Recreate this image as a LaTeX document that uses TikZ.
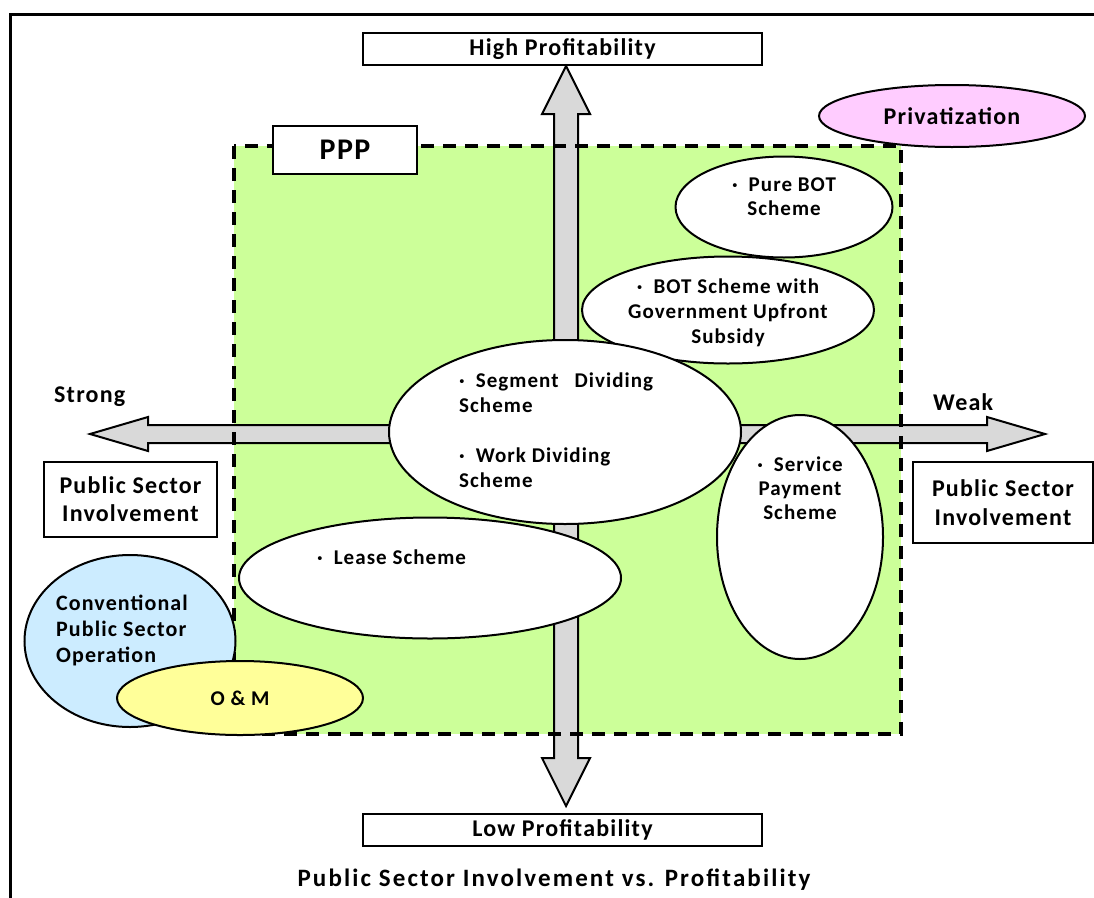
\documentclass[tikz,border=0pt]{standalone}
\usepackage{fontspec}
\setmainfont{Carlito}[LetterSpace=5]
\usetikzlibrary{shapes.geometric}
\definecolor{arrowgray}{HTML}{D9D9D9}
\definecolor{pppgreen}{HTML}{CCFF99}
\definecolor{privpink}{HTML}{FFCCFF}
\definecolor{convblue}{HTML}{CCECFF}
\definecolor{omyellow}{HTML}{FFFF99}
\begin{document}
\begin{tikzpicture}[x=1pt,y=-1pt,
  lbl/.style={font=\fontsize{24}{28}\selectfont\bfseries,inner sep=0pt},
  txt/.style={font=\fontsize{21}{25}\selectfont\bfseries,inner sep=0pt},
  oval/.style={ellipse,draw=black,line width=2pt,fill=white,inner sep=0pt},
  tagbox/.style={rectangle,draw=black,line width=2.5pt,fill=white,inner sep=0pt},
  bigarrow/.style={draw=black,line width=2pt,fill=arrowgray,line join=miter}]
  \useasboundingbox (0,0) rectangle (1094,897);
  \draw[line width=3pt] (10,905) -- (10,14) -- (1100,14);

  % Profitability axis labels.
  \node[tagbox,lbl,minimum width=399pt,minimum height=32pt] (high) at (562.5,49) {High Profitability};
  \node[tagbox,lbl,minimum width=399pt,minimum height=32pt] (low) at (562.5,830) {Low Profitability};

  % PPP area with both axes.
  \fill[pppgreen] (234,146) rectangle (901,734);
  \filldraw[bigarrow] (90,434) -- (148,417) -- (148,425) -- (987,425) -- (987,417)
    -- (1045,434) -- (987,451) -- (987,443) -- (148,443) -- (148,451) -- cycle;
  \filldraw[bigarrow] (566,66) -- (590,114) -- (578,114) -- (578,758) -- (590,758)
    -- (566,806) -- (542,758) -- (554,758) -- (554,114) -- (542,114) -- cycle;
  \draw[line width=4pt,dash pattern=on 13pt off 9pt] (234,146) rectangle (901,734);
  \node[tagbox,minimum width=144pt,minimum height=48pt,font=\fontsize{30}{34}\selectfont\bfseries] (ppp) at (345,150) {PPP};

  % Schemes.
  \node[oval,fill=privpink,minimum width=266pt,minimum height=62pt,lbl] (priv) at (952,116) {Privatization};
  \node[oval,minimum width=217pt,minimum height=101pt] (purebot) at (784,207) {};
  \node[oval,minimum width=292pt,minimum height=107pt] (botsub) at (728,310) {};
  \node[oval,minimum width=352pt,minimum height=184pt] (central) at (565,432) {};
  \node[oval,minimum width=382pt,minimum height=121pt] (lease) at (430,578) {};
  \node[oval,minimum width=166pt,minimum height=244pt] (service) at (800,537) {};
  \node[oval,fill=convblue,minimum width=211pt,minimum height=172pt] (conv) at (130,641) {};
  \node[oval,fill=omyellow,minimum width=246pt,minimum height=74pt,txt] (om) at (240,698) {O \& M};

  % Last line of each text sits on the given baseline.
  \node[txt,anchor=base,align=center,font=\fontsize{21}{24}\selectfont\bfseries] (purebottxt) at (784,215) {·\hspace{11pt}Pure BOT\\Scheme};
  \node[txt,anchor=base,align=center] (botsubtxt) at (728,343) {·\hspace{11pt}BOT Scheme with\\Government Upfront\\Subsidy};
  \node[txt,anchor=base west,align=left] (centraltxt) at (459,487) {·\hspace{11pt}Segment\hspace{16pt}Dividing\\Scheme\\[25pt]·\hspace{11pt}Work Dividing\\Scheme};
  \node[txt,anchor=base west] (leasetxt) at (317,564) {·\hspace{11pt}Lease Scheme};
  \node[txt,anchor=base,align=center,font=\fontsize{21}{24}\selectfont\bfseries] (servicetxt) at (800,519) {·\hspace{11pt}Service\\Payment\\Scheme};
  \node[txt,anchor=base west,align=left,font=\fontsize{22}{26}\selectfont\bfseries] (convtxt) at (56,662) {Conventional\\Public Sector\\Operation};

  % Involvement axis labels.
  \node[lbl,anchor=base west] (strong) at (54,402) {Strong};
  \node[lbl,anchor=base west] (weak) at (933,410) {Weak};
  \node[tagbox,lbl,align=center,minimum width=173pt,minimum height=75pt,font=\fontsize{24}{28}\selectfont\bfseries] (leftinv) at (130.5,499.5) {Public Sector\\Involvement};
  \node[tagbox,lbl,align=center,minimum width=180pt,minimum height=81pt,font=\fontsize{24}{29}\selectfont\bfseries] (rightinv) at (1003,502.5) {Public Sector\\Involvement};

  \node[anchor=base,font=\fontsize{25}{30}\selectfont\bfseries\addfontfeature{LetterSpace=8.5},inner sep=0pt] (title) at (554,886) {Public Sector Involvement vs. Profitability};
\end{tikzpicture}
\end{document}
